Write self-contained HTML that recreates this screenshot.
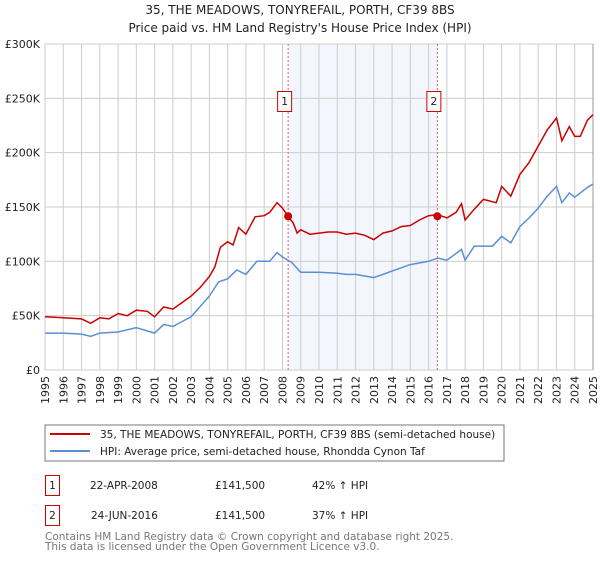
<!DOCTYPE html>
<html><head><meta charset="utf-8"><style>
body{margin:0;background:#fff;width:600px;height:560px;overflow:hidden;font-family:"DejaVu Sans","Liberation Sans",sans-serif}
</style></head><body>
<svg id="chart" width="600" height="560" xmlns="http://www.w3.org/2000/svg" font-family="DejaVu Sans, Liberation Sans, sans-serif">
<text x="300" y="14" text-anchor="middle" font-size="12" fill="#222">35, THE MEADOWS, TONYREFAIL, PORTH, CF39 8BS</text>
<text x="300" y="32" text-anchor="middle" font-size="12" fill="#222">Price paid vs. HM Land Registry's House Price Index (HPI)</text>
<g id="plot"></g>
<rect x="45" y="425" width="459" height="36" fill="#fff" stroke="#777"/>
<line x1="50" y1="434" x2="90" y2="434" stroke="#cc0000" stroke-width="2"/>
<text x="100" y="438" font-size="10.5" fill="#222">35, THE MEADOWS, TONYREFAIL, PORTH, CF39 8BS (semi-detached house)</text>
<line x1="50" y1="451" x2="90" y2="451" stroke="#5b8fd4" stroke-width="2"/>
<text x="100" y="455" font-size="10.5" fill="#222">HPI: Average price, semi-detached house, Rhondda Cynon Taf</text>
<g font-size="10.5" fill="#222">
<rect x="45.5" y="475.5" width="14" height="20" fill="#fff" stroke="#cc0000"/>
<text x="52.5" y="489" text-anchor="middle">1</text>
<text x="90" y="489">22-APR-2008</text>
<text x="215" y="489">£141,500</text>
<text x="312" y="489">42% ↑ HPI</text>
<rect x="45.5" y="505.5" width="14" height="20" fill="#fff" stroke="#cc0000"/>
<text x="52.5" y="519" text-anchor="middle">2</text>
<text x="91" y="519">24-JUN-2016</text>
<text x="215" y="519">£141,500</text>
<text x="312" y="519">37% ↑ HPI</text>
</g>
<text x="45" y="540" font-size="10.5" fill="#777">Contains HM Land Registry data © Crown copyright and database right 2025.</text>
<text x="45" y="550" font-size="10.5" fill="#777">This data is licensed under the Open Government Licence v3.0.</text>
</svg>
<script>
const yTicks=[0,50,100,150,200,250,300];
const yTickLabels=["£0","£50K","£100K","£150K","£200K","£250K","£300K"];
const years=[1995,1996,1997,1998,1999,2000,2001,2002,2003,2004,2005,2006,2007,2008,2009,2010,2011,2012,2013,2014,2015,2016,2017,2018,2019,2020,2021,2022,2023,2024,2025];
const redT=[1995,1996,1997,1997.5,1998,1998.5,1999,1999.5,2000,2000.6,2001,2001.5,2002,2002.5,2003,2003.5,2004,2004.3,2004.6,2005,2005.3,2005.6,2006,2006.5,2007,2007.3,2007.7,2008,2008.3,2008.6,2008.8,2009,2009.5,2010,2010.5,2011,2011.5,2012,2012.5,2013,2013.5,2014,2014.5,2015,2015.5,2016,2016.5,2017,2017.5,2017.8,2018,2018.5,2019,2019.7,2020,2020.5,2021,2021.5,2022,2022.5,2023,2023.3,2023.7,2024,2024.3,2024.7,2025];
const redV=[49,48,47,43,48,47,52,50,55,54,49,58,56,62,68,76,86,95,113,118,115,131,125,141,142,145,154,149,141.5,135,126,129,125,126,127,127,125,126,124,120,126,128,132,133,138,142,143,140,145,153,138,148,157,154,169,160,180,191,206,221,232,211,224,215,215,230,235];
const blueT=[1995,1996,1997,1997.5,1998,1999,2000,2001,2001.5,2002,2003,2004,2004.5,2005,2005.5,2006,2006.6,2007.3,2007.7,2008,2008.5,2009,2010,2011,2011.5,2012,2013,2014,2015,2016,2016.5,2017,2017.8,2018,2018.5,2019.5,2020,2020.5,2021,2021.5,2022,2022.5,2023,2023.3,2023.7,2024,2024.7,2025];
const blueV=[34,34,33,31,34,35,39,34,42,40,49,68,81,84,92,88,100,100,108,104,99,90,90,89,88,88,85,91,97,100,103,101,111,101,114,114,123,117,132,140,149,160,169,154,163,159,168,171];
const sales=[2008.31,2016.48];
const saleV=[141.5,141.5];
const NS="http://www.w3.org/2000/svg";
const X0=45,X1=593,Y0=370,Y1=44;
const xs=t=>X0+(t-1995)*(X1-X0)/30;
const ys=v=>Y0-v*(Y0-Y1)/300;
const g=document.getElementById('plot');
function mk(tag,attrs){const e=document.createElementNS(NS,tag);for(const k in attrs)e.setAttribute(k,attrs[k]);g.appendChild(e);return e;}
const shade=mk('rect',{x:xs(sales[0]),y:Y1,width:xs(sales[1])-xs(sales[0]),height:Y0-Y1,fill:'#eef3fc',opacity:0.7});


years.forEach(yr=>{
 const l=mk('line',{x1:xs(yr),x2:xs(yr),y1:Y1,y2:Y0,stroke:'#ccc'});
 
 
 const t=mk('text',{x:0,y:0,'font-size':11,fill:'#222','text-anchor':'end',transform:`translate(${xs(yr)+4},${Y0+6}) rotate(-90)`});
 t.textContent=yr;
 
 
});
yTicks.forEach((v,i)=>{
 const l=mk('line',{x1:X0,x2:X1,y1:ys(v),y2:ys(v),stroke:'#ccc'});
 
 
 const t=mk('text',{x:40,y:ys(v)+4,'font-size':11,fill:'#222','text-anchor':'end'});
 t.textContent=yTickLabels[i];
 
 
});
const rb=mk('line',{x1:X1,x2:X1,y1:Y1,y2:Y0,stroke:'#999'});


sales.forEach((s,i)=>{
 const l=mk('line',{x1:xs(s),x2:xs(s),y1:Y1,y2:Y0,stroke:'#e06060','stroke-dasharray':'2,2'});
 
 
});
const pts=(T,V)=>T.map((t,i)=>xs(t).toFixed(1)+','+ys(V[i]).toFixed(1)).join(' ');
const bl=mk('polyline',{points:pts(blueT,blueV),fill:'none',stroke:'#5b8fd4','stroke-width':1.5});


const rl=mk('polyline',{points:pts(redT,redV),fill:'none',stroke:'#cc0000','stroke-width':1.5});


sales.forEach((s,i)=>{
 const c=mk('circle',{cx:xs(s),cy:ys(saleV[i]),r:4,fill:'#cc0000'});
 
 
 const r=mk('rect',{x:xs(s)-10.5,y:91.5,width:14,height:20,fill:'#fff',stroke:'#cc0000'});
 
 
 const t=mk('text',{x:xs(s)-3.5,y:105,'font-size':11,fill:'#222','text-anchor':'middle'});
 t.textContent=String(i+1);
 
 
});
</script>
</body></html>
